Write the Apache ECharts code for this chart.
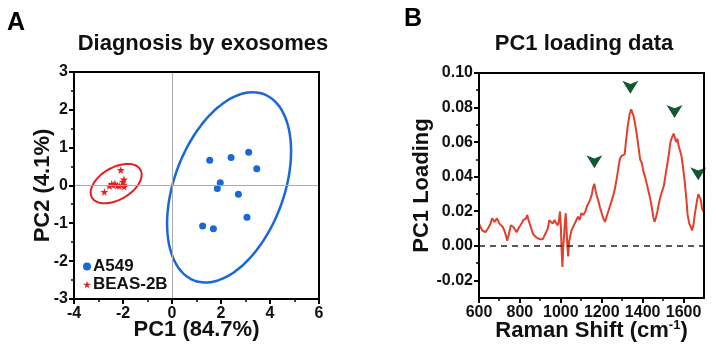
<!DOCTYPE html>
<html>
<head>
<meta charset="utf-8">
<script src="https://cdn.jsdelivr.net/npm/echarts@6/dist/echarts.min.js"></script>
<style>
  html, body { margin: 0; padding: 0; background: #fff; }
  #main { width: 716px; height: 351px; }
</style>
</head>
<body>
<div id="main"></div>
<script>
// ---- panel A: PCA scores ----
var pc1A549 = [1.54, 2.41, 3.13, 3.46, 1.97, 1.85, 2.71, 3.06, 1.25, 1.69];
var pc2A549 = [0.67, 0.74, 0.88, 0.44, 0.07, -0.08, -0.23, -0.84, -1.07, -1.14];
var pc1Beas = [-2.76, -2.56, -2.46, -2.40, -2.33, -2.23, -2.15, -2.09, -2.01, -1.97, -1.96, -1.95];
var pc2Beas = [-0.17, -0.01, 0.04, 0.01, 0.05, 0.00, -0.01, 0.41, 0.10, 0.02, 0.16, -0.03];
// confidence ellipses: centre x, centre y, half width, half height, phase
var ellipseA549 = [2.33, -0.05, 2.53, 2.515, 1.18];
var ellipseBeas = [-2.28, 0.05, 1.04, 0.52, 1.10];
var xTicksA = [-4, -2, 0, 2, 4, 6];
var xMinorA = [-3, -1, 1, 3, 5];
var yTicksA = [-3, -2, -1, 0, 1, 2, 3];
var yMinorA = [-2.5, -1.5, -0.5, 0.5, 1.5, 2.5];

// ---- panel B: PC1 loading spectrum ----
var ramanShift = [600, 608, 616, 624, 632, 640, 648, 656, 664, 670, 676, 682, 688, 694, 700, 708, 716, 724, 732, 738,
  744, 750, 756, 762, 768, 776, 784, 792, 800, 808, 816, 824, 830, 836, 842, 848, 856, 864, 872, 880,
  888, 896, 904, 912, 920, 928, 936, 944, 952, 960, 968, 976, 984, 990, 996, 1000, 1004, 1008, 1012, 1016,
  1020, 1024, 1028, 1032, 1036, 1040, 1046, 1052, 1060, 1068, 1076, 1084, 1092, 1100, 1110, 1120, 1128, 1136, 1144, 1152,
  1158, 1164, 1170, 1176, 1184, 1192, 1200, 1208, 1216, 1224, 1232, 1240, 1248, 1256, 1264, 1272, 1280, 1288, 1296, 1304,
  1312, 1320, 1328, 1336, 1344, 1350, 1356, 1364, 1372, 1380, 1388, 1396, 1404, 1412, 1420, 1428, 1436, 1444, 1452, 1458,
  1464, 1472, 1480, 1488, 1496, 1504, 1512, 1520, 1528, 1536, 1544, 1552, 1558, 1564, 1570, 1576, 1584, 1590, 1598, 1606,
  1614, 1620, 1628, 1636, 1642, 1648, 1656, 1664, 1672, 1678, 1684, 1690, 1696];
var pc1Loading = [0.013, 0.012, 0.009, 0.010, 0.008, 0.009, 0.011, 0.013, 0.016, 0.017, 0.014, 0.013, 0.016, 0.015, 0.013, 0.012, 0.011, 0.009, 0.006, 0.003,
  0.006, 0.009, 0.012, 0.013, 0.011, 0.010, 0.008, 0.010, 0.011, 0.013, 0.015, 0.014, 0.016, 0.018, 0.015, 0.013, 0.010, 0.007, 0.006, 0.005,
  0.006, 0.004, 0.005, 0.004, 0.006, 0.007, 0.010, 0.015, 0.016, 0.013, 0.015, 0.016, 0.012, 0.014, 0.020, 0.012, -0.003, -0.012, 0.000, 0.006,
  0.014, 0.019, 0.010, 0.000, -0.006, 0.002, 0.006, 0.009, 0.011, 0.013, 0.015, 0.017, 0.015, 0.019, 0.018, 0.020, 0.023, 0.025, 0.027, 0.030,
  0.034, 0.036, 0.032, 0.029, 0.026, 0.022, 0.019, 0.016, 0.014, 0.017, 0.020, 0.023, 0.026, 0.029, 0.033, 0.038, 0.044, 0.050, 0.052, 0.051,
  0.053, 0.062, 0.070, 0.076, 0.079, 0.077, 0.075, 0.070, 0.064, 0.057, 0.050, 0.048, 0.043, 0.040, 0.036, 0.032, 0.028, 0.023, 0.017, 0.014,
  0.016, 0.020, 0.025, 0.029, 0.032, 0.035, 0.041, 0.047, 0.053, 0.060, 0.063, 0.065, 0.064, 0.060, 0.062, 0.058, 0.057, 0.052, 0.045, 0.037,
  0.027, 0.018, 0.013, 0.011, 0.009, 0.012, 0.019, 0.025, 0.030, 0.031, 0.027, 0.022, 0.020];
var arrowShift = [1164, 1340, 1556, 1672];
var arrowLoading = [0.045, 0.088, 0.074, 0.038];
var xTicksB = [600, 800, 1000, 1200, 1400, 1600];
var xMinorB = [700, 900, 1100, 1300, 1500];
var yTicksB = [-0.02, 0, 0.02, 0.04, 0.06, 0.08, 0.10];
var yMinorB = [-0.01, 0.01, 0.03, 0.05, 0.07, 0.09];

var FONT = 'Liberation Sans, Arial, sans-serif';
var STAR = 'path://M50,0 L61,35 L98,35 L68,57 L79,91 L50,70 L21,91 L32,57 L2,35 L39,35 Z';

function zip(xs, ys) {
    return xs.map(function (x, i) { return [x, ys[i]]; });
}
function ellipse(p) {
    var pts = [];
    for (var i = 0; i <= 90; i++) {
        var t = i / 90 * Math.PI * 2;
        pts.push([p[0] + p[2] * Math.cos(t), p[1] + p[3] * Math.cos(t - p[4])]);
    }
    return pts;
}
function tickLabel(extra) {
    return Object.assign({ show: true, color: '#111', fontFamily: FONT, fontWeight: 'bold', fontSize: 16 }, extra || {});
}
function nameStyle() {
    return { color: '#111', fontFamily: FONT, fontWeight: 'bold', fontSize: 22 };
}
function noLine() { return { show: false }; }

var myChart = echarts.init(document.getElementById('main'));
var option = {
    animation: false,
    legend: {
        orient: 'vertical',
        left: 78,
        top: 253,
        itemWidth: 8,
        itemHeight: 8,
        itemGap: 1,
        textStyle: { color: '#111', fontFamily: FONT, fontWeight: 'bold', fontSize: 17, padding: [0, 0, 0, -3] },
        data: [
            { name: 'A549', icon: 'circle' },
            { name: 'BEAS-2B', icon: STAR }
        ]
    },
    grid: [
        { left: 74, top: 72, width: 245, height: 227 },
        { left: 479, top: 73, width: 225, height: 225 }
    ],
    xAxis: [
        {
            gridIndex: 0, type: 'value', min: -4, max: 6, interval: 2,
            name: 'PC1 (84.7%)', nameLocation: 'middle', nameGap: 20, nameMoveOverlap: false, nameTextStyle: nameStyle(),
            axisLine: noLine(), axisTick: noLine(),
            axisLabel: tickLabel({ margin: 7 }),
            splitLine: { show: false }
        },
        {
            gridIndex: 1, type: 'value', min: 600, max: 1700, interval: 200,
            name: 'Raman Shift (cm{sup|-1})', nameLocation: 'middle', nameGap: 21, nameMoveOverlap: false,
            nameTextStyle: Object.assign(nameStyle(), { rich: { sup: { fontFamily: FONT, fontWeight: 'bold', fontSize: 13, color: '#111', verticalAlign: 'top', padding: [0, 0, 10, 0] } } }),
            axisLine: noLine(), axisTick: noLine(),
            axisLabel: tickLabel({ margin: 7, showMaxLabel: false, formatter: function (v) { return String(v); } }),
            splitLine: { show: false }
        }
    ],
    yAxis: [
        {
            gridIndex: 0, type: 'value', min: -3, max: 3, interval: 1,
            name: 'PC2 (4.1%)', nameLocation: 'middle', nameGap: 20, nameMoveOverlap: false, nameTextStyle: nameStyle(),
            axisLine: noLine(), axisTick: noLine(),
            axisLabel: tickLabel({ margin: 6 }),
            splitLine: { show: false }
        },
        {
            gridIndex: 1, type: 'value', min: -0.03, max: 0.10,
            name: 'PC1 Loading', nameLocation: 'middle', nameGap: 46, nameMoveOverlap: false, nameTextStyle: nameStyle(),
            axisLine: noLine(), axisTick: noLine(),
            axisLabel: tickLabel({ margin: 6, customValues: yTicksB, formatter: function (v) { return v.toFixed(2); } }),
            splitLine: { show: false }
        }
    ],
    series: [
        {
            name: 'A549', type: 'scatter', xAxisIndex: 0, yAxisIndex: 0,
            symbol: 'circle', symbolSize: 7, itemStyle: { color: '#1a68d6', opacity: 1 },
            data: zip(pc1A549, pc2A549),
            markLine: {
                silent: true, symbol: 'none', label: { show: false },
                lineStyle: { color: '#aaaaaa', width: 1, type: 'solid' },
                data: [{ xAxis: 0 }, { yAxis: 0 }]
            },
            z: 3
        },
        {
            name: 'BEAS-2B', type: 'scatter', xAxisIndex: 0, yAxisIndex: 0,
            symbol: STAR, symbolSize: 8, itemStyle: { color: '#e3201f', opacity: 1 },
            data: zip(pc1Beas, pc2Beas),
            z: 3
        },
        {
            name: 'A549 ellipse', type: 'line', xAxisIndex: 0, yAxisIndex: 0,
            showSymbol: false, smooth: true, lineStyle: { color: '#1a68d6', width: 2.5 },
            data: ellipse(ellipseA549)
        },
        {
            name: 'BEAS-2B ellipse', type: 'line', xAxisIndex: 0, yAxisIndex: 0,
            showSymbol: false, smooth: true, lineStyle: { color: '#e3201f', width: 2 },
            data: ellipse(ellipseBeas)
        },
        {
            name: 'PC1 loading', type: 'line', xAxisIndex: 1, yAxisIndex: 1,
            showSymbol: false, lineStyle: { color: '#e2402c', width: 2 },
            data: zip(ramanShift, pc1Loading),
            markLine: {
                silent: true, symbol: 'none', label: { show: false },
                lineStyle: { color: '#222', width: 1.5, type: [6, 5] },
                data: [{ yAxis: 0 }]
            }
        },
        {
            name: 'peaks', type: 'scatter', xAxisIndex: 1, yAxisIndex: 1,
            symbol: 'arrow', symbolRotate: 180, symbolSize: [12, 13],
            itemStyle: { color: '#12592f', opacity: 1 },
            data: zip(arrowShift, arrowLoading)
        }
    ]
};
myChart.setOption(option);

// frame and ticks, placed through the chart's own scales
var graphics = [
    { type: 'text', x: 16, y: 23, style: { text: 'A', font: 'bold 25px ' + FONT, fill: '#000', align: 'center', verticalAlign: 'middle' } },
    { type: 'text', x: 413, y: 19, style: { text: 'B', font: 'bold 25px ' + FONT, fill: '#000', align: 'center', verticalAlign: 'middle' } },
    { type: 'text', x: 203, y: 44, style: { text: 'Diagnosis by exosomes', font: 'bold 22px ' + FONT, fill: '#111', align: 'center', verticalAlign: 'middle' } },
    { type: 'text', x: 584, y: 44, style: { text: 'PC1 loading data', font: 'bold 22px ' + FONT, fill: '#111', align: 'center', verticalAlign: 'middle' } }
];
function seg(x1, y1, x2, y2, w) {
    graphics.push({
        type: 'line', silent: true, z: 50,
        shape: { x1: x1, y1: y1, x2: x2, y2: y2 },
        style: { stroke: '#000', lineWidth: w }
    });
}
function axisBox(i, xr, yr, xt, xm, yt, ym) {
    var toPx = function (x, y) { return myChart.convertToPixel({ xAxisIndex: i, yAxisIndex: i }, [x, y]); };
    var bl = toPx(xr[0], yr[0]), tr = toPx(xr[1], yr[1]);
    var L = Math.round(bl[0]), B = Math.round(bl[1]), R = Math.round(tr[0]), T = Math.round(tr[1]);
    // four sides as separate segments
    seg(L - 1, B, R + 1, B, 2);
    seg(L - 1, T, R + 1, T, 2);
    seg(L, T, L, B, 2);
    seg(R, T, R, B, 2);
    xt.forEach(function (v) { var p = Math.round(toPx(v, yr[0])[0]); seg(p, B, p, B + 5, 2); });
    xm.forEach(function (v) { var p = Math.round(toPx(v, yr[0])[0]); seg(p, B, p, B + 3, 1.5); });
    yt.forEach(function (v) { var p = Math.round(toPx(xr[0], v)[1]); seg(L, p, L - 5, p, 2); });
    ym.forEach(function (v) { var p = Math.round(toPx(xr[0], v)[1]); seg(L, p, L - 3, p, 1.5); });
}
axisBox(0, [-4, 6], [-3, 3], xTicksA, xMinorA, yTicksA, yMinorA);
axisBox(1, [600, 1700], [-0.03, 0.10], xTicksB, xMinorB, yTicksB, yMinorB);
myChart.setOption({ graphic: graphics });
</script>
</body>
</html>
